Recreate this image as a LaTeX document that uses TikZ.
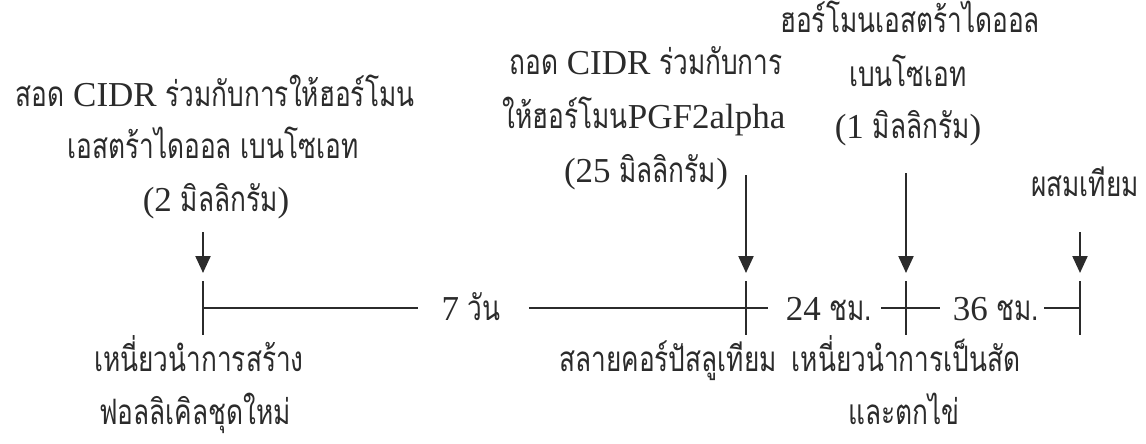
\documentclass[tikz,border=0pt]{standalone}
\usepackage{fontspec}
\setmainfont{Liberation Serif}
\newfontfamily\thf[Script=Thai,FakeStretch=0.75]{Loma}
\usetikzlibrary{arrows.meta}
\definecolor{ink}{HTML}{2B2B2B}
\begin{document}
\begin{tikzpicture}[x=0.5pt,y=-0.5pt,
  txt/.style={font=\fontsize{17.5}{21}\selectfont, inner sep=0pt, anchor=base, text=ink},
  arr/.style={draw=ink, line width=1.1pt, -{Triangle[width=7.5pt,length=8.5pt]}},
  tl/.style={draw=ink, line width=0.75pt}]
\useasboundingbox (0,0) rectangle (1146,444);
% upper texts
\node[txt] (a1) at (215,107) {{\thf สอด} CIDR {\thf ร่วมกับการให้ฮอร์โมน}};
\node[txt] (a2) at (213,159) {\thf เอสตร้าไดออล เบนโซเอท};
\node[txt] (a3) at (216,211) {(2 {\thf มิลลิกรัม})};
\node[txt] (b1) at (646,75) {{\thf ถอด} CIDR {\thf ร่วมกับการ}};
\node[txt] (b2) at (644,129) {{\thf ให้ฮอร์โมน}PGF2alpha};
\node[txt] (b3) at (646,183) {(25 {\thf มิลลิกรัม})};
\node[txt] (r1) at (910,33) {\thf ฮอร์โมนเอสตร้าไดออล};
\node[txt] (r2) at (908,87) {\thf เบนโซเอท};
\node[txt] (r3) at (908,139) {(1 {\thf มิลลิกรัม})};
\node[txt] (r4) at (1085,197) {\thf ผสมเทียม};
% ticks
\coordinate (t1) at (203,308);
\coordinate (t2) at (746,308);
\coordinate (t3) at (906,308);
\coordinate (t4) at (1080,308);
\foreach \t in {t1,t2,t3,t4}{
  \draw[tl] ([yshift=13.5pt]\t) -- ([yshift=-13.5pt]\t);
}
% arrows
\coordinate (s1) at (203,232);
\coordinate (s2) at (746,175);
\coordinate (s3) at (906,173);
\coordinate (s4) at (1080,232);
\draw[arr] (s1) -- ([yshift=4pt]t1 |- 0,281);
\draw[arr] (s2) -- ([yshift=4pt]t2 |- 0,281);
\draw[arr] (s3) -- ([yshift=4pt]t3 |- 0,281);
\draw[arr] (s4) -- ([yshift=4pt]t4 |- 0,281);
% interval labels
\node[txt] (d1) at (471,320) {7 {\thf วัน}};
\node[txt] (d2) at (829,320) {24 {\thf ชม.}};
\node[txt] (d3) at (996,320) {36 {\thf ชม.}};
\draw[tl] (t1) -- ([xshift=-11.5pt]t1 -| d1.west);
\draw[tl] ([xshift=14pt]t1 -| d1.east) -- (t2);
\draw[tl] (t2) -- ([xshift=-9pt]t2 -| d2.west);
\draw[tl] ([xshift=4.5pt]t2 -| d2.east) -- (t3) -- ([xshift=-6.5pt]t3 -| d3.west);
\draw[tl] ([xshift=2.5pt]t3 -| d3.east) -- (t4);
% lower texts
\node[txt] (c1) at (199,371) {\thf เหนี่ยวนำการสร้าง};
\node[txt] (c2) at (195,424) {\thf ฟอลลิเคิลชุดใหม่};
\node[txt] (c3) at (668,371) {\thf สลายคอร์ปัสลูเทียม};
\node[txt] (c4) at (906,371) {\thf เหนี่ยวนำการเป็นสัด};
\node[txt] (c5) at (904,424) {\thf และตกไข่};
\end{tikzpicture}
\end{document}
